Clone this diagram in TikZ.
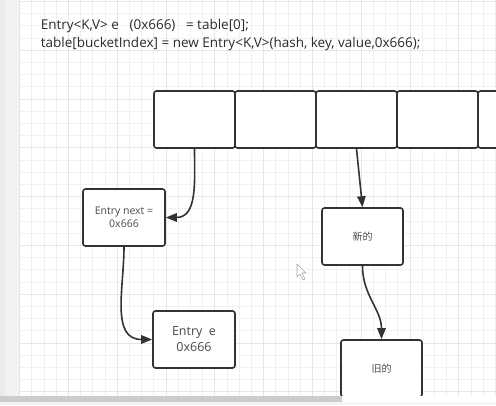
\documentclass[tikz,border=0pt]{standalone}
\usepackage{fontspec}
\setmainfont{Open Sans}
\newfontfamily\cjk{Noto Sans CJK SC}
\usetikzlibrary{arrows.meta}
\definecolor{linec}{HTML}{333333}
\definecolor{textc}{HTML}{2B2B2B}
\definecolor{boxtext}{HTML}{4A4A4A}
\definecolor{gridminor}{HTML}{F1F1F1}
\definecolor{gridmajor}{HTML}{E6E6E6}
\begin{document}
\begin{tikzpicture}[x=1pt, y=-1pt, line width=1.6pt,
    cell/.style={draw=linec, fill=white, rounded corners=2.5pt, minimum width=81pt, minimum height=57pt, inner sep=0pt},
    entry/.style={cell, minimum width=82pt, align=center, text=boxtext},
    link/.style={-{Triangle[length=11pt,width=8.5pt]}, draw=linec}]
    \useasboundingbox (0,0) rectangle (496,405);
    \clip (0,0) rectangle (496,405);
    %background
    \fill[white] (0,0) rectangle (496,405);
    \foreach \i in {-4,...,35}
        \draw[gridminor, line width=0.6pt] ({68.3+12.2*\i},0) -- ({68.3+12.2*\i},396);
    \foreach \i in {-24,...,8}
        \draw[gridminor, line width=0.6pt] (19,{294+12.2*\i}) -- (496,{294+12.2*\i});
    \foreach \i in {-1,...,8}
        \draw[gridmajor, line width=0.6pt] ({68.3+48.8*\i},0) -- ({68.3+48.8*\i},396);
    \foreach \i in {-6,...,2}
        \draw[gridmajor, line width=0.6pt] (19,{294+48.8*\i}) -- (496,{294+48.8*\i});
    \fill[gray!10] (0,0) rectangle (19,405);
    \fill[gray!16] (0,0) rectangle (5,405);
    %nodes
    \node[anchor=west, align=left, inner sep=0pt, text=textc, font=\fontsize{13.5}{18}\selectfont] (code) at (40,35)
        {Entry<K,V> e \ \ (0x666) \ \ = table[0];\\table[bucketIndex] = new Entry<K,V>(hash, key, value,0x666);};
    \foreach \i in {1,...,5}
        \node[cell] (cell\i) at ({113.5+81*\i},119.5) {};
    \node[entry, font=\fontsize{10.5}{12.5}\selectfont] (next) at (124,217.5) {Entry next =\\0x666};
    \node[entry, font=\fontsize{12.5}{16}\selectfont] (e) at (194,339.5) {Entry \ e\\0x666};
    \node[entry, minimum width=81pt, font=\cjk\fontsize{10}{12}\selectfont] (new) at (362.5,236.5) {新的};
    \node[entry, minimum width=81pt, font=\cjk\fontsize{10}{12}\selectfont] (old) at (381.5,368.5) {旧的};
    %links
    \draw[link] (cell1.south) to[out=-90, in=0, looseness=1.1] (next.east);
    \draw[link] (next.south) to[out=-90, in=180, looseness=1.1] (e.west);
    \draw[link] (cell3.south) -- (new.north);
    \draw[link] (new.south) to[out=-90, in=90] (old.north);
    %cursor
    \draw[gray!70, fill=white, line width=0.6pt, line join=round]
        (297,264) -- (297,277) -- (300,274) -- (303,280) -- (305,279) -- (302,273) -- (306,273) -- cycle;
    %scrollbar
    \fill[gray!8] (0,396) rectangle (496,405);
    \fill[gray!40] (0,396) rectangle (342,402);
    \fill[white] (342,396) rectangle (496,402);
\end{tikzpicture}
\end{document}
